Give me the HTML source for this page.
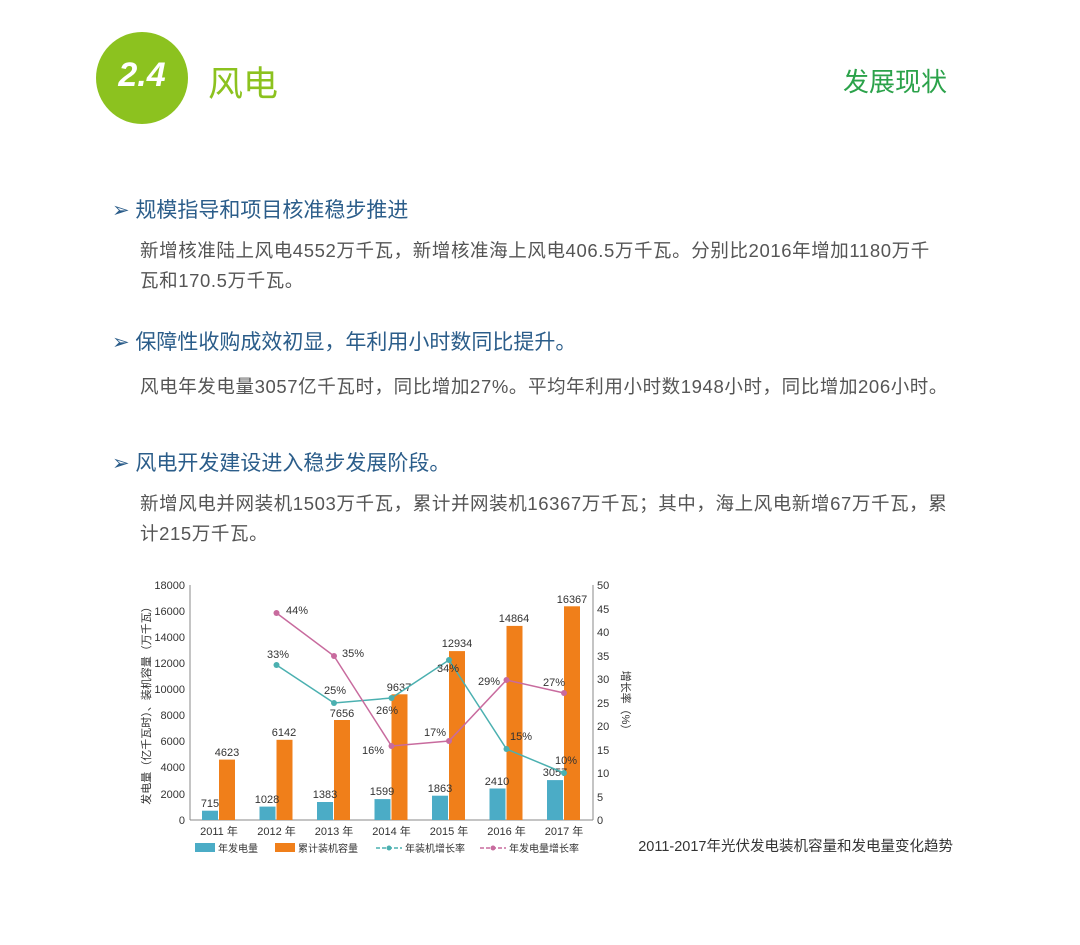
<!DOCTYPE html>
<html><head><meta charset="utf-8"><style>
body{margin:0;width:1080px;height:945px;background:#fff;position:relative;overflow:hidden;font-family:"Liberation Sans","Noto Sans CJK SC",sans-serif;}
.a{position:absolute;white-space:nowrap;}
.h{color:#2b5d8a;font-size:21px;left:112px;}
.b{color:#555;font-size:18.5px;letter-spacing:0.6px;left:140px;line-height:30px;}
</style></head><body>
<div class="a" style="left:96px;top:32px;width:92px;height:92px;border-radius:50%;background:#8cc21f;"></div>
<div class="a" style="left:96px;top:56px;width:92px;text-align:center;color:#fff;font-size:34px;font-weight:bold;font-style:italic;">2.4</div>
<div class="a" style="left:208px;top:56px;color:#8cc21f;font-size:35px;">风电</div>
<div class="a" style="left:843px;top:62px;color:#2ba24a;font-size:26px;">发展现状</div>

<div class="a h" style="top:194px;">➢ 规模指导和项目核准稳步推进</div>
<div class="a b" style="top:236px;">新增核准陆上风电4552万千瓦，新增核准海上风电406.5万千瓦。分别比2016年增加1180万千<br>瓦和170.5万千瓦。</div>
<div class="a h" style="top:326px;">➢ 保障性收购成效初显，年利用小时数同比提升。</div>
<div class="a b" style="top:372px;">风电年发电量3057亿千瓦时，同比增加27%。平均年利用小时数1948小时，同比增加206小时。</div>
<div class="a h" style="top:447px;">➢ 风电开发建设进入稳步发展阶段。</div>
<div class="a b" style="top:489px;">新增风电并网装机1503万千瓦，累计并网装机16367万千瓦；其中，海上风电新增67万千瓦，累<br>计215万千瓦。</div>

<svg class="a" style="left:0;top:0" width="1080" height="945" font-family="Liberation Sans,Noto Sans CJK SC,sans-serif">
<g stroke="#888" stroke-width="1">
<line x1="190" y1="585" x2="190" y2="820"/><line x1="593" y1="585" x2="593" y2="820"/><line x1="190" y1="820" x2="593" y2="820"/>
</g>
<g font-size="11" fill="#333" text-anchor="end">
<text x="185" y="589">18000</text><text x="185" y="615">16000</text><text x="185" y="641">14000</text><text x="185" y="667">12000</text><text x="185" y="693">10000</text><text x="185" y="719">8000</text><text x="185" y="745">6000</text><text x="185" y="771">4000</text><text x="185" y="798">2000</text><text x="185" y="824">0</text>
</g>
<g font-size="11" fill="#333">
<text x="597" y="589">50</text><text x="597" y="613">45</text><text x="597" y="636">40</text><text x="597" y="660">35</text><text x="597" y="683">30</text><text x="597" y="707">25</text><text x="597" y="730">20</text><text x="597" y="754">15</text><text x="597" y="777">10</text><text x="597" y="801">5</text><text x="597" y="824">0</text>
</g>
<text transform="translate(150,703) rotate(-90)" font-size="11" fill="#333" text-anchor="middle">发电量（亿千瓦时）、装机容量（万千瓦）</text>
<text transform="translate(622,703) rotate(90)" font-size="11" fill="#333" text-anchor="middle">增长率（%）</text>
<g fill="#4bacc6">
<rect x="202" y="810.7" width="16" height="9.3"/><rect x="259.5" y="806.6" width="16" height="13.4"/><rect x="317" y="802" width="16" height="18"/><rect x="374.5" y="799.1" width="16" height="20.9"/><rect x="432" y="795.7" width="16" height="24.3"/><rect x="489.5" y="788.5" width="16" height="31.5"/><rect x="547" y="780.1" width="16" height="39.9"/>
</g>
<g fill="#f07f1a">
<rect x="219" y="759.6" width="16" height="60.4"/><rect x="276.5" y="739.8" width="16" height="80.2"/><rect x="334" y="720" width="16" height="100"/><rect x="391.5" y="694.3" width="16" height="125.7"/><rect x="449" y="651.1" width="16" height="168.9"/><rect x="506.5" y="625.9" width="16" height="194.1"/><rect x="564" y="606.3" width="16" height="213.7"/>
</g>
<g font-size="11" fill="#333" text-anchor="middle">
<text x="210" y="807">715</text><text x="267" y="803">1028</text><text x="325" y="798">1383</text><text x="382" y="795">1599</text><text x="440" y="792">1863</text><text x="497" y="785">2410</text><text x="555" y="776">3057</text>
<text x="227" y="756">4623</text><text x="284" y="736">6142</text><text x="342" y="717">7656</text><text x="399" y="691">9637</text><text x="457" y="647">12934</text><text x="514" y="622">14864</text><text x="572" y="603">16367</text>
</g>
<polyline fill="none" stroke="#4bb0b0" stroke-width="1.5" points="276.5,665 334,703 391.5,698 449,660 506.5,749 564,773"/>
<polyline fill="none" stroke="#c86b9e" stroke-width="1.5" points="276.5,613 334,656 391.5,746 449,741 506.5,680 564,693"/>
<g fill="#4bb0b0"><circle cx="276.5" cy="665" r="3"/><circle cx="334" cy="703" r="3"/><circle cx="391.5" cy="698" r="3"/><circle cx="449" cy="660" r="3"/><circle cx="506.5" cy="749" r="3"/><circle cx="564" cy="773" r="3"/></g>
<g fill="#c86b9e"><circle cx="276.5" cy="613" r="3"/><circle cx="334" cy="656" r="3"/><circle cx="391.5" cy="746" r="3"/><circle cx="449" cy="741" r="3"/><circle cx="506.5" cy="680" r="3"/><circle cx="564" cy="693" r="3"/></g>
<g font-size="11" fill="#333">
<text x="267" y="658">33%</text><text x="324" y="694">25%</text><text x="376" y="714">26%</text><text x="437" y="672">34%</text><text x="510" y="740">15%</text><text x="555" y="764">10%</text>
<text x="286" y="614">44%</text><text x="342" y="657">35%</text><text x="362" y="754">16%</text><text x="424" y="736">17%</text><text x="478" y="685">29%</text><text x="543" y="686">27%</text>
</g>
<g font-size="11" fill="#333" text-anchor="middle">
<text x="219" y="835">2011 年</text><text x="276.5" y="835">2012 年</text><text x="334" y="835">2013 年</text><text x="391.5" y="835">2014 年</text><text x="449" y="835">2015 年</text><text x="506.5" y="835">2016 年</text><text x="564" y="835">2017 年</text>
</g>
<rect x="195" y="843" width="20" height="9" fill="#4bacc6"/><text x="218" y="852" font-size="10" fill="#333">年发电量</text>
<rect x="275" y="843" width="20" height="9" fill="#f07f1a"/><text x="298" y="852" font-size="10" fill="#333">累计装机容量</text>
<line x1="376" y1="848" x2="402" y2="848" stroke="#4bb0b0" stroke-width="1.5" stroke-dasharray="4,2"/><circle cx="389" cy="848" r="2.5" fill="#4bb0b0"/><text x="405" y="852" font-size="10" fill="#333">年装机增长率</text>
<line x1="480" y1="848" x2="506" y2="848" stroke="#c86b9e" stroke-width="1.5" stroke-dasharray="4,2"/><circle cx="493" cy="848" r="2.5" fill="#c86b9e"/><text x="509" y="852" font-size="10" fill="#333">年发电量增长率</text>
<text x="953" y="851" font-size="14.5" fill="#333" text-anchor="end">2011-2017年光伏发电装机容量和发电量变化趋势</text>
</svg>
</body></html>
